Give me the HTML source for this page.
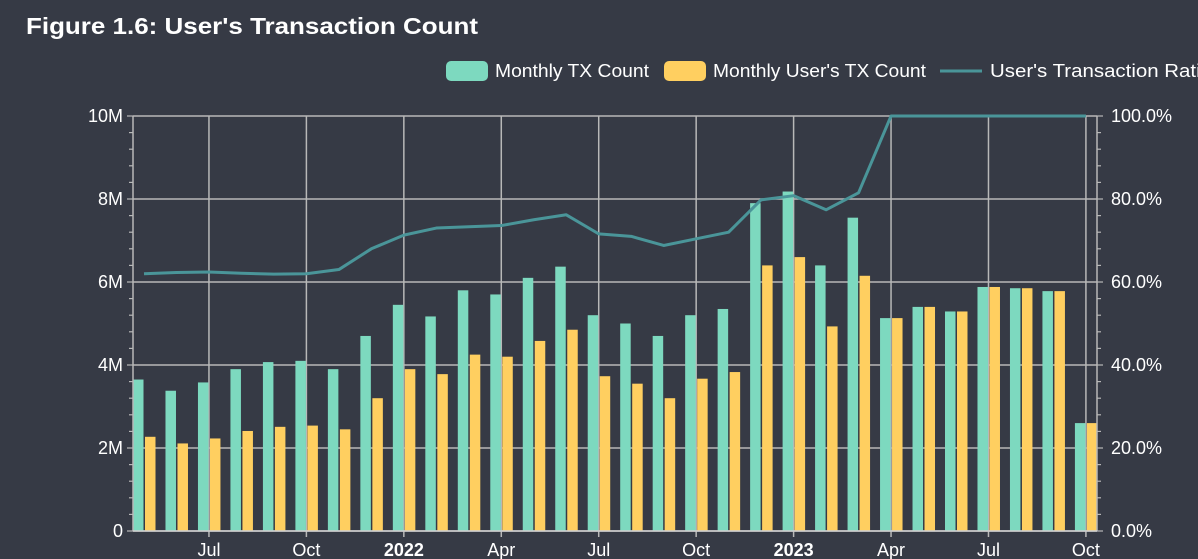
<!DOCTYPE html>
<html><head><meta charset="utf-8"><style>
body{margin:0;background:#363a45;width:1198px;height:559px;overflow:hidden;font-family:"Liberation Sans",sans-serif}
</style></head><body>
<svg width="1198" height="559" style="position:absolute;left:0;top:0">
<text x="26" y="34" fill="#fff" font-size="23" font-weight="bold" textLength="452" lengthAdjust="spacingAndGlyphs">Figure 1.6: User's Transaction Count</text>
<g id="legend">
<g><rect x="446" y="61" width="42" height="20" rx="5" fill="#7dd9bf"/><text x="495" y="77" fill="#fff" font-size="18" textLength="154" lengthAdjust="spacingAndGlyphs">Monthly TX Count</text></g>
<g><rect x="664" y="61" width="42" height="20" rx="5" fill="#ffcf60"/><text x="713" y="77" fill="#fff" font-size="18" textLength="213" lengthAdjust="spacingAndGlyphs">Monthly User's TX Count</text></g>
<g><line x1="940" y1="71" x2="982" y2="71" stroke="#4a9599" stroke-width="3"/><text x="990" y="77" fill="#fff" font-size="18" textLength="222" lengthAdjust="spacingAndGlyphs">User's Transaction Ratio</text></g>
</g>
<g id="grid"></g><g id="bars"></g><g id="line"></g><g id="axes"></g>
</svg>
<script>
const months=["May21","Jun21","Jul21","Aug21","Sep21","Oct21","Nov21","Dec21","Jan22","Feb22","Mar22","Apr22","May22","Jun22","Jul22","Aug22","Sep22","Oct22","Nov22","Dec22","Jan23","Feb23","Mar23","Apr23","May23","Jun23","Jul23","Aug23","Sep23","Oct23"];
const txCount=[3.65,3.38,3.58,3.9,4.07,4.1,3.9,4.7,5.45,5.17,5.8,5.7,6.1,6.37,5.2,5.0,4.7,5.2,5.35,7.9,8.18,6.4,7.55,5.13,5.4,5.29,5.88,5.85,5.78,2.6];
const userTx=[2.27,2.11,2.23,2.41,2.51,2.54,2.45,3.2,3.9,3.78,4.25,4.2,4.58,4.85,3.73,3.55,3.2,3.67,3.83,6.4,6.6,4.93,6.15,5.13,5.4,5.29,5.88,5.85,5.78,2.6];
const ratio=[62,62.3,62.4,62.1,61.9,62,63,68,71.3,73,73.3,73.6,75,76.2,71.6,71,68.8,70.4,72,79.8,80.8,77.4,81.5,100,100,100,100,100,100,100];
const leftTicks=["0","2M","4M","6M","8M","10M"];
const rightTicks=["0.0%","20.0%","40.0%","60.0%","80.0%","100.0%"];
const xTicks=[{i:2,l:"Jul"},{i:5,l:"Oct"},{i:8,l:"2022",b:1},{i:11,l:"Apr"},{i:14,l:"Jul"},{i:17,l:"Oct"},{i:20,l:"2023",b:1},{i:23,l:"Apr"},{i:26,l:"Jul"},{i:29,l:"Oct"}];
const L=133,R=1097,T=116,B=531;
const x=i=>144+i*32.48;
const y=v=>B-(v/10)*(B-T);
const yr=v=>B-(v/100)*(B-T);
const NS="http://www.w3.org/2000/svg";
function mk(p,t,a){const e=document.createElementNS(NS,t);for(const k in a)e.setAttribute(k,a[k]);p.appendChild(e);return e;}
const grid=document.getElementById('grid'),bars=document.getElementById('bars'),line=document.getElementById('line'),axes=document.getElementById('axes');
leftTicks.forEach((t,k)=>{const yy=y(k*2);
 const g=mk(grid,'line',{x1:L,x2:R,y1:yy,y2:yy,stroke:'#b8b8b8','stroke-width':1.5});
 
 
 const a=mk(axes,'text',{x:L-10,y:yy+6,fill:'#fff','font-size':18,'text-anchor':'end'});a.textContent=t;
 
 
 const b=mk(axes,'text',{x:R+14,y:yy+6,fill:'#fff','font-size':18});b.textContent=rightTicks[k];
 
 
});
for(let v=0;v<=10.001;v+=0.4){const yy=y(v);const big=Math.abs(v/2-Math.round(v/2))<0.01;
 mk(axes,'line',{x1:L-(big?6:4),x2:L,y1:yy,y2:yy,stroke:'#b8b8b8','stroke-width':1.2});
 mk(axes,'line',{x1:R,x2:R+(big?6:4),y1:yy,y2:yy,stroke:'#b8b8b8','stroke-width':1.2});}
xTicks.forEach(t=>{const xx=x(t.i);
 const g=mk(grid,'line',{x1:xx,x2:xx,y1:T,y2:B,stroke:'#b8b8b8','stroke-width':1.5});
 
 
 mk(axes,'line',{x1:xx,x2:xx,y1:B,y2:B+6,stroke:'#b8b8b8','stroke-width':1.5});
 const a=mk(axes,'text',{x:xx,y:B+25,fill:'#fff','font-size':18,'text-anchor':'middle','font-weight':t.b?'bold':'normal'});a.textContent=t.l;
 
 
});
mk(axes,'line',{x1:L,x2:L,y1:T,y2:B,stroke:'#b8b8b8','stroke-width':1.5});
mk(axes,'line',{x1:R,x2:R,y1:T,y2:B,stroke:'#b8b8b8','stroke-width':1.5});
mk(axes,'line',{x1:L,x2:R,y1:B,y2:B,stroke:'#d0d0d0','stroke-width':1.5});
months.forEach((m,i)=>{const xx=x(i);
 const g=mk(bars,'rect',{x:xx-11,y:y(txCount[i]),width:10.5,height:B-y(txCount[i]),fill:'#7dd9bf'});
 
 
 const o=mk(bars,'rect',{x:xx+1,y:y(userTx[i]),width:10.5,height:B-y(userTx[i]),fill:'#ffcf60'});
 
 
});
const p=mk(line,'polyline',{points:ratio.map((v,i)=>x(i)+','+yr(v)).join(' '),fill:'none',stroke:'#4a9599','stroke-width':3,'stroke-linejoin':'round'});


</script>
</body></html>
